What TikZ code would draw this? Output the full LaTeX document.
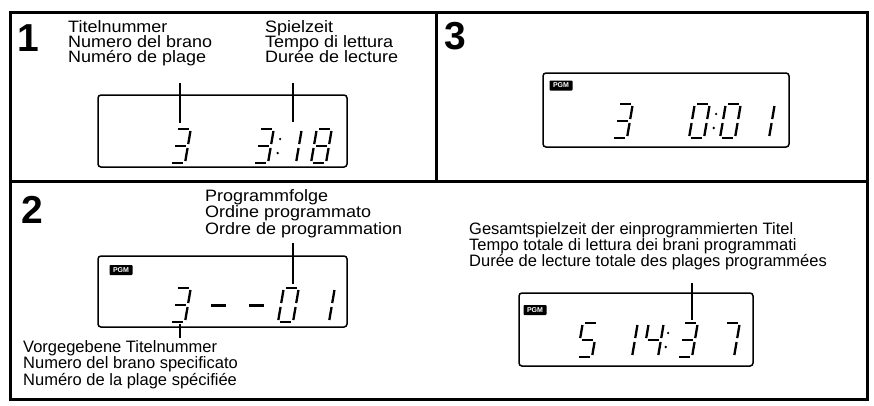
\documentclass[tikz,border=0pt]{standalone}
\usepackage{fontspec}
\setmainfont{Liberation Sans}
\newfontfamily\labAfont[FakeStretch=1.09]{Liberation Sans}
\newfontfamily\labBfont{Liberation Sans}
\def\segsl{0.17}
\def\SEGa{2/34/13/34}
\def\SEGb{15/19/15/32}
\def\SEGc{15/2/15/15}
\def\SEGd{2/0/13/0}
\def\SEGe{0/2/0/15}
\def\SEGf{0/19/0/32}
\def\SEGg{2/17/13/17}
\def\drawseg#1/#2/#3/#4\relax#5#6{\draw[segline] ({#5+#1+\segsl*#2},{#6-#2}) -- ({#5+#3+\segsl*#4},{#6-#4});}
\newcommand\segdigit[3]{\foreach \sgm in {#3}{\expandafter\expandafter\expandafter\drawseg\csname SEG\sgm\endcsname\relax{#1}{#2}}}
\newcommand\segcolon[2]{\fill ({#1+\segsl*10},{#2-10}) circle (1.3pt); \fill ({#1+\segsl*24},{#2-24}) circle (1.3pt);}
\begin{document}
\begin{tikzpicture}[x=1pt,y=-1pt,
  frameline/.style={line width=3pt},
  lcdbox/.style={draw, line width=1.5pt, rounded corners=3pt, inner sep=0pt},
  segline/.style={line width=2.3pt},
  dashbar/.style={line width=3pt},
  leader/.style={line width=1.5pt},
  labA/.style={anchor=base west, inner sep=0pt, font=\labAfont\fontsize{16.5}{17}\selectfont},
  labB/.style={anchor=base west, inner sep=0pt, font=\labBfont\fontsize{16.5}{17}\selectfont},
  bignum/.style={anchor=base west, inner sep=0pt, font=\bfseries\fontsize{39}{39}\selectfont},
  pgm/.style={fill=black, text=white, font=\bfseries\fontsize{7}{7}\selectfont, inner sep=0pt, minimum width=23pt, minimum height=10pt, rounded corners=0.8pt}]
\useasboundingbox (0,0) rectangle (874,405);
\fill[white] (0,0) rectangle (874,405);
% frame
\draw[frameline] (10,12) rectangle (867,399);
\draw[frameline] (436,12) -- (436,181);
\draw[frameline] (10,181) -- (867,181);
% panel numbers
\node[bignum] (n1) at (17,51) {1};
\node[bignum] (n3) at (444,49) {3};
\node[bignum] (n2) at (21,223) {2};
% panel 1 labels
\node[labA] (t1a) at (68,32) {Titelnummer};
\node[labA] (t1b) at (68,47) {Numero del brano};
\node[labA] (t1c) at (68,62) {Numéro de plage};
\node[labA] (s1a) at (265,32) {Spielzeit};
\node[labA] (s1b) at (265,47) {Tempo di lettura};
\node[labA] (s1c) at (265,62) {Durée de lecture};
% LCD 1
\node[lcdbox, minimum width=249pt, minimum height=72pt] (lcd1) at (222.5,131) {};
\segdigit{170}{163}{a,b,c,d,g}
\segdigit{253}{163}{a,b,c,d,g}
\segcolon{276}{163}
\segdigit{281}{163}{b,c}
\segdigit{311}{163}{a,b,c,d,e,f,g}
\coordinate (l1a) at (180,83); \coordinate (l1b) at (180,123);
\coordinate (l2a) at (293,83); \coordinate (l2b) at (293,122);
\draw[leader] (l1a) -- (l1b);
\draw[leader] (l2a) -- (l2b);
% panel 3
\node[lcdbox, minimum width=246pt, minimum height=74pt] (lcd3) at (666,110) {};
\node[pgm] (pgm3) at (561,85.5) {PGM};
\segdigit{612}{138}{a,b,c,d,g}
\segdigit{689}{138}{a,b,c,d,e,f}
\segcolon{712}{138}
\segdigit{720}{138}{a,b,c,d,e,f}
\segdigit{754}{138}{b,c}
% panel 2 left
\node[labA] (p2a) at (205,201) {Programmfolge};
\node[labA] (p2b) at (205,217.5) {Ordine programmato};
\node[labA] (p2c) at (205,234) {Ordre de programmation};
\node[lcdbox, minimum width=249pt, minimum height=71pt] (lcd2) at (222.5,291.5) {};
\node[pgm] (pgm2) at (121,270) {PGM};
\segdigit{170}{322}{a,b,c,d,g}
\coordinate (d1a) at (211,305); \coordinate (d1b) at (226,305);
\coordinate (d2a) at (249,305); \coordinate (d2b) at (264,305);
\draw[dashbar] (d1a) -- (d1b);
\draw[dashbar] (d2a) -- (d2b);
\segdigit{278}{322}{a,b,c,d,e,f}
\segdigit{314}{322}{b,c}
\coordinate (l3a) at (293,243); \coordinate (l3b) at (293,284);
\coordinate (l4a) at (180,324); \coordinate (l4b) at (180,338);
\draw[leader] (l3a) -- (l3b);
\draw[leader] (l4a) -- (l4b);
\node[labB] (v2a) at (23,352) {Vorgegebene Titelnummer};
\node[labB] (v2b) at (23,368.5) {Numero del brano specificato};
\node[labB] (v2c) at (23,385) {Numéro de la plage spécifiée};
% panel 2 right
\node[labB] (g2a) at (469,234) {Gesamtspielzeit der einprogrammierten Titel};
\node[labB] (g2b) at (469,250) {Tempo totale di lettura dei brani programmati};
\node[labB] (g2c) at (469,266) {Durée de lecture totale des plages programmées};
\node[lcdbox, minimum width=234pt, minimum height=73pt] (lcd4) at (636,329.5) {};
\node[pgm] (pgm4) at (535,310) {PGM};
\segdigit{577}{357}{a,f,g,c,d}
\segdigit{617}{357}{b,c}
\segdigit{643}{357}{b,c,f,g}
\segcolon{664}{357}
\segdigit{677}{357}{a,b,c,d,g}
\segdigit{719}{357}{a,b,c}
\coordinate (l5a) at (692,283); \coordinate (l5b) at (692,320);
\draw[leader] (l5a) -- (l5b);
\end{tikzpicture}
\end{document}
